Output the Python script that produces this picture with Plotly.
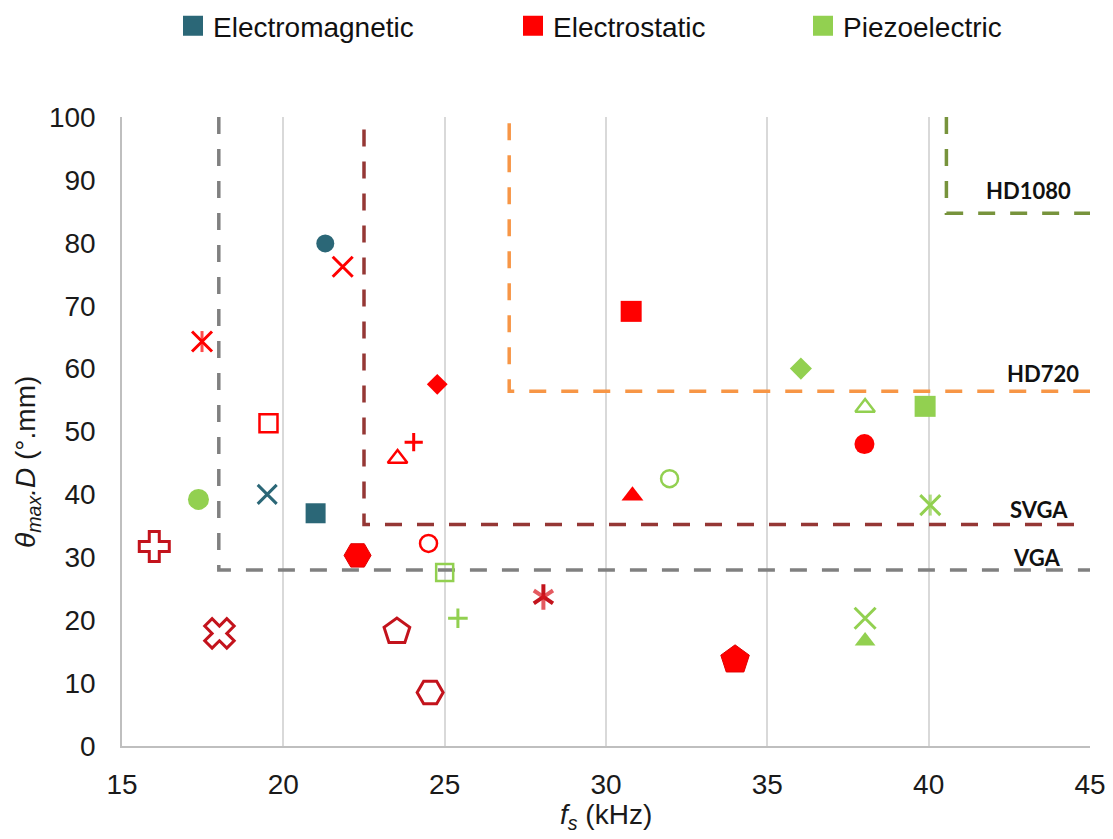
import plotly.graph_objects as go

# ---------------- data ----------------
FS_TICKS = [15, 20, 25, 30, 35, 40, 45]
THETA_TICKS = [0, 10, 20, 30, 40, 50, 60, 70, 80, 90, 100]

TECH_NAMES = ["Electromagnetic", "Electrostatic", "Piezoelectric"]

# Electromagnetic scanners
EM_FS = [21.3, 19.5, 21.0]
EM_THETA_D = [79.9, 40.0, 37.0]

# Electrostatic scanners
ES_FS = [21.84, 17.48, 19.54, 23.54, 24.04, 24.77, 30.78, 16.0, 22.3,
         24.5, 18.02, 23.52, 24.55, 28.06, 30.82, 34.0, 38.01]
ES_THETA_D = [76.2, 64.3, 51.3, 45.7, 48.3, 57.5, 69.1, 31.7, 30.3,
              32.2, 17.9, 18.2, 8.5, 23.7, 39.8, 13.7, 48.0]

# Piezoelectric scanners
PZ_FS = [17.37, 25.0, 25.41, 31.97, 36.04, 38.03, 39.89, 40.05, 38.03, 38.03]
PZ_THETA_D = [39.2, 27.6, 20.3, 42.5, 60.0, 53.8, 54.0, 38.3, 20.3, 16.7]

# Display resolution requirement boundaries
RES_NAMES = ["VGA", "SVGA", "HD720", "HD1080"]
RES_FS = [[18, 18, 45], [22.5, 22.5, 44.6], [27, 27, 45], [40.55, 40.55, 45]]
RES_THETA_D = [[100, 28, 28], [98, 35.2, 35.2], [99, 56.4, 56.4], [100, 84.7, 84.7]]
RES_LABEL_FS = [43.35, 43.43, 43.55, 43.09]
RES_LABEL_THETA_D = [30.0, 37.6, 59.2, 88.3]

# ---------------- styles ----------------
TEAL = "#2B6777"
RED = "#FF0000"
DRED = "#C3131C"
GREEN = "#92D050"
RES_COLORS = ["#808080", "#953735", "#F79646", "#77933C"]

EM_STYLE = dict(
    symbol=["circle", "x-thin-open", "square"],
    size=[18, 19, 20],
    color=[TEAL, TEAL, TEAL],
    lcolor=[TEAL, TEAL, TEAL],
    lwidth=[0, 3, 0],
    extra=[None, None, None],
)
ES_STYLE = dict(
    symbol=["x-thin-open", "x-thin-open", "square-open", "triangle-up-open", "cross-thin-open",
            "diamond", "square", "cross", "hexagon2", "circle-open", "x", "pentagon",
            "hexagon2", "y-up-open", "triangle-up", "pentagon", "circle"],
    size=[20, 20, 18, 17, 13, 16, 21, 25, 27, 17, 26, 27, 26, 16, 19, 30, 20],
    color=[RED, RED, RED, RED, RED, RED, RED, "white", RED, RED, "white", "white",
           "white", DRED, RED, RED, RED],
    lcolor=[RED, RED, RED, RED, RED, RED, RED, DRED, "#E00000", RED, DRED, DRED,
            DRED, "#D8141C", RED, "#E00000", RED],
    lwidth=[3, 3, 2.5, 2.5, 3, 0, 0, 3, 1, 2.5, 3, 3, 3, 4, 0, 1, 0],
    extra=[None, "line-ns-open", None, None, None, None, None, None, None, None,
           None, None, None, "y-down-open", None, None, None],
    esize=[0, 15, 0, 0, 0, 0, 0, 0, 0, 0, 0, 0, 0, 16, 0, 0, 0],
)
PZ_STYLE = dict(
    symbol=["circle", "square-open", "cross-thin-open", "circle-open", "diamond",
            "triangle-up-open", "square", "x-thin-open", "x-thin-open", "triangle-up"],
    size=[21, 17, 14, 17, 17, 17, 21, 20, 21, 18],
    color=[GREEN] * 10,
    lcolor=[GREEN] * 10,
    lwidth=[0, 2.5, 3, 2.5, 0, 2.5, 0, 3, 3, 0],
    extra=[None, None, None, None, None, None, None, "line-ns-open", None, None],
    esize=[0, 0, 0, 0, 0, 0, 0, 15, 0, 0],
)

fig = go.Figure()

# boundary lines
for name, xs, ys, col in zip(RES_NAMES, RES_FS, RES_THETA_D, RES_COLORS):
    fig.add_trace(go.Scatter(
        x=xs, y=ys, mode="lines", showlegend=False, hoverinfo="skip",
        line=dict(color=col, width=3.5, dash="17px,15px"), name=name))


def add_points(xs, ys, st, name):
    fig.add_trace(go.Scatter(
        x=xs, y=ys, mode="markers", showlegend=False, name=name,
        marker=dict(symbol=st["symbol"], size=st["size"], color=st["color"],
                    opacity=1,
                    line=dict(color=st["lcolor"], width=st["lwidth"]))))
    ex = [i for i, e in enumerate(st["extra"]) if e]
    if ex:
        fig.add_trace(go.Scatter(
            x=[xs[i] for i in ex], y=[ys[i] for i in ex], mode="markers",
            showlegend=False, name=name, hoverinfo="skip",
            marker=dict(symbol=[st["extra"][i] for i in ex],
                        size=[st["esize"][i] for i in ex],
                        color=[st["lcolor"][i] for i in ex],
                        line=dict(color=[st["lcolor"][i] for i in ex],
                                  width=[st["lwidth"][i] for i in ex]))))


add_points(EM_FS, EM_THETA_D, EM_STYLE, TECH_NAMES[0])
add_points(ES_FS, ES_THETA_D, ES_STYLE, TECH_NAMES[1])
add_points(PZ_FS, PZ_THETA_D, PZ_STYLE, TECH_NAMES[2])

# legend entries (each in its own legend box)
for name, col, lg in zip(TECH_NAMES, [TEAL, RED, GREEN], ["legend", "legend2", "legend3"]):
    fig.add_trace(go.Scatter(
        x=[None], y=[None], mode="markers", name=name, legend=lg,
        marker=dict(symbol="square", size=16, color=col, line=dict(color=col, width=4))))

FONT = "Liberation Sans, Arial, sans-serif"
tick_font = dict(family=FONT, size=28, color="#1a1a1a")
leg_common = dict(orientation="h", xref="container", yref="container",
                  y=0.969, yanchor="middle", xanchor="left",
                  bgcolor="rgba(0,0,0,0)",
                  font=dict(family=FONT, size=28, color="#111"))

annotations = []
for name, lx, ly in zip(RES_NAMES, RES_LABEL_FS, RES_LABEL_THETA_D):
    annotations.append(dict(x=lx, y=ly, xref="x", yref="y", text="<b>%s</b>" % name,
                            showarrow=False, xanchor="center", yanchor="middle",
                            font=dict(family="Lato, sans-serif", size=22, color="#111")))
annotations.append(dict(x=(28 - 122) / 968, y=(746 - 462) / 629, xref="paper", yref="paper",
                        textangle=-90, showarrow=False, xanchor="center", yanchor="middle",
                        text="<i>θ</i><sub><i>max</i></sub><i>.D</i> (°.mm)",
                        font=dict(family=FONT, size=28, color="#1a1a1a")))
annotations.append(dict(x=0.5, y=(746 - 816) / 629, xref="paper", yref="paper",
                        showarrow=False, xanchor="center", yanchor="middle",
                        text="<i>f</i><sub><i>s</i></sub> (kHz)",
                        font=dict(family=FONT, size=28, color="#1a1a1a")))

fig.update_layout(
    width=1113, height=839,
    margin=dict(l=122, r=23, t=117, b=93),
    paper_bgcolor="white", plot_bgcolor="white",
    legend=dict(x=173 / 1113, **leg_common),
    legend2=dict(x=513 / 1113, **leg_common),
    legend3=dict(x=803 / 1113, **leg_common),
    annotations=annotations,
    xaxis=dict(range=[15, 45], tickvals=FS_TICKS, showgrid=True, gridcolor="#d9d9d9",
               gridwidth=1.5, showline=True, linecolor="#bfbfbf", linewidth=1.5,
               zeroline=False, ticks="", ticklabelstandoff=13, tickfont=tick_font,
               automargin=False),
    yaxis=dict(range=[0, 100], tickvals=THETA_TICKS, showgrid=False, showline=True,
               linecolor="#bfbfbf", linewidth=1.5, zeroline=False, ticks="",
               ticklabelstandoff=19, tickfont=tick_font, automargin=False),
)

fig.write_html("out.html")
